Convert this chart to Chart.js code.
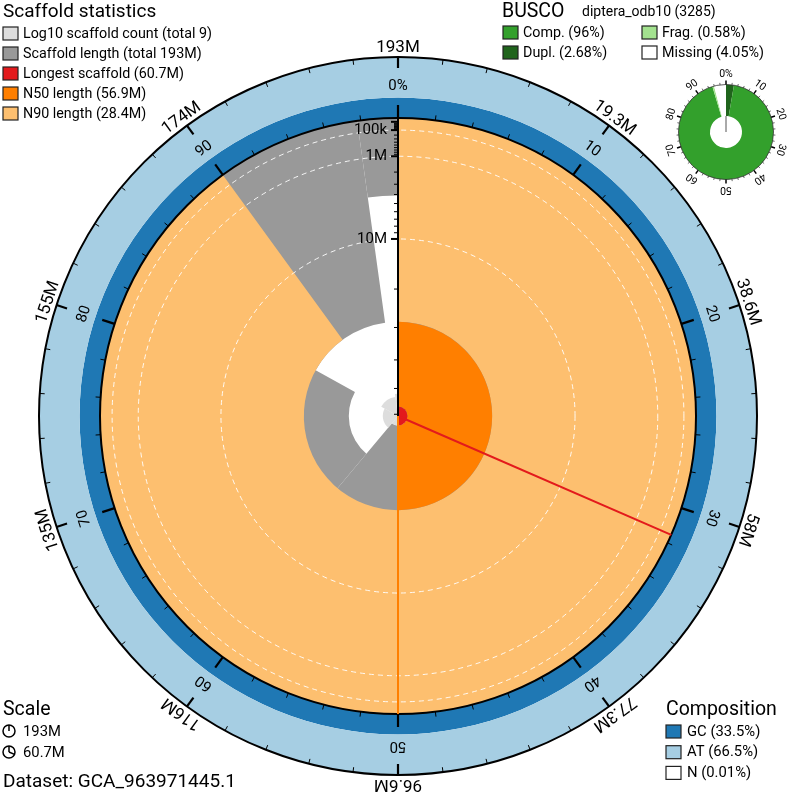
<!DOCTYPE html>
<html>
<head>
<meta charset="utf-8">
<script src="https://cdn.jsdelivr.net/npm/chart.js@4.4.1/dist/chart.umd.min.js"></script>
<style>
  html, body { margin: 0; padding: 0; background: #fff; overflow: hidden; }
  #wrap { position: relative; width: 787px; height: 792px; }
  #main { position: absolute; left: 0; top: 0; }
  #busco { position: absolute; left: 656px; top: 62px; }
</style>
</head>
<body>
<div id="wrap">
  <canvas id="main" width="787" height="792"></canvas>
  <canvas id="busco" width="140" height="140"></canvas>
</div>
<script>
// scaffold lengths in Mb, sorted longest first
const scaffoldLengths = [60.7, 56.9, 42.3, 28.4, 4.1, 0.04, 0.03, 0.02, 0.02]
const assemblySpanLabel = '193M'
const longestScaffold = 60.7
const n50Length = 56.9
const n90Length = 28.4

const gcShare = 33.5
const atShare = 66.5
const nShare = 0.01

const percentLabels = ['0%', '10', '20', '30', '40', '50', '60', '70', '80', '90']
const spanLabels = ['193M', '19.3M', '38.6M', '58M', '77.3M', '96.6M', '116M', '135M', '155M', '174M']
const lengthTicks = [0.1, 1, 10]
const lengthTickLabels = ['100k', '1M', '10M']

const buscoClasses = ['Dupl.', 'Comp.', 'Frag.', 'Missing']
const buscoShares = [2.68, 92.69, 0.58, 4.05]
const buscoLegend = ['Comp. (96%)', 'Frag. (0.58%)', 'Dupl. (2.68%)', 'Missing (4.05%)']
const buscoTickLabels = ['0%', '10', '20', '30', '40', '50', '60', '70', '80', '90']

const COLORS = {
  count: '#dddddd',
  length: '#999999',
  longest: '#e31a1c',
  n50: '#ff7f00',
  n90: '#fdbf6f',
  gc: '#1f78b4',
  at: '#a6cee3',
  n: '#ffffff',
  comp: '#33a02c',
  dupl: '#20641c',
  frag: '#a3e28f',
  missing: '#ffffff'
}
const FONT = 'Roboto, "Noto Sans", sans-serif'

const assemblySpan = scaffoldLengths.reduce((a, b) => a + b, 0)

// radial scale: centre = longest scaffold, edge = 0 (sqrt)
const radiusFor = len => 1 - Math.sqrt(len / longestScaffold)
const countRadius = n => 0.107 * Math.log10(n)
const compBand = 0.2047

function sector(ctx, cx, cy, r0, r1, p0, p1, color) {
  const a0 = p0 * 2 * Math.PI - Math.PI / 2
  const a1 = p1 * 2 * Math.PI - Math.PI / 2
  ctx.beginPath()
  ctx.arc(cx, cy, r1, a0, a1)
  ctx.arc(cx, cy, r0, a1, a0, true)
  ctx.closePath()
  ctx.fillStyle = color
  ctx.fill()
}

function radialTick(ctx, cx, cy, p, rFrom, rTo, width) {
  const a = p * 2 * Math.PI
  ctx.beginPath()
  ctx.moveTo(cx + rFrom * Math.sin(a), cy - rFrom * Math.cos(a))
  ctx.lineTo(cx + rTo * Math.sin(a), cy - rTo * Math.cos(a))
  ctx.lineWidth = width
  ctx.strokeStyle = '#000'
  ctx.stroke()
}

function rotatedText(ctx, cx, cy, p, r, text, font) {
  ctx.save()
  ctx.translate(cx, cy)
  ctx.rotate(p * 2 * Math.PI)
  ctx.font = font
  ctx.fillStyle = '#000'
  ctx.textAlign = 'center'
  ctx.textBaseline = 'middle'
  ctx.fillText(text, 0, -r)
  ctx.restore()
}

function legendBox(ctx, x, y, color) {
  ctx.fillStyle = color
  ctx.fillRect(x, y - 6, 15, 13)
  ctx.strokeStyle = '#222'
  ctx.lineWidth = 1.2
  ctx.strokeRect(x, y - 6, 15, 13)
}

function legendText(ctx, x, y, text, size) {
  ctx.font = size + 'px ' + FONT
  ctx.fillStyle = '#000'
  ctx.textAlign = 'left'
  ctx.textBaseline = 'middle'
  ctx.fillText(text, x, y)
}

function title(ctx, x, y, text, size) {
  ctx.font = size + 'px ' + FONT
  ctx.textAlign = 'left'
  ctx.textBaseline = 'alphabetic'
  ctx.fillStyle = '#000'
  ctx.fillText(text, x, y)
}

const snailPlugin = {
  id: 'snail',
  beforeDatasetsDraw(chart) {
    const { ctx, scales: { x, y } } = chart
    const cx = x.getPixelForValue(0)
    const cy = y.getPixelForValue(0)
    const u = v => x.getPixelForValue(v) - cx

    // scaffold length distribution
    let cum = 0
    scaffoldLengths.forEach(len => {
      const p0 = cum / assemblySpan
      cum += len
      sector(ctx, cx, cy, u(radiusFor(len)), u(1), p0, cum / assemblySpan, COLORS.length)
    })
    // log10 scaffold count
    cum = 0
    scaffoldLengths.forEach((len, i) => {
      const p0 = cum / assemblySpan
      cum += len
      sector(ctx, cx, cy, 0, u(countRadius(i + 1)), p0, cum / assemblySpan, COLORS.count)
    })
    // N90 / N50 / longest
    sector(ctx, cx, cy, u(radiusFor(n90Length)), u(1), 0, 0.9, COLORS.n90)
    sector(ctx, cx, cy, u(radiusFor(n50Length)), u(radiusFor(n90Length)), 0, 0.5, COLORS.n50)
    sector(ctx, cx, cy, 0, u(radiusFor(n50Length)), 0, 0.5, COLORS.longest)

    // dashed length gridlines
    ctx.save()
    ctx.setLineDash([5, 4])
    ctx.strokeStyle = 'rgba(255,255,255,0.9)'
    ctx.lineWidth = 1
    lengthTicks.forEach(len => {
      ctx.beginPath()
      ctx.arc(cx, cy, u(radiusFor(len)), 0, 2 * Math.PI)
      ctx.stroke()
    })
    ctx.restore()

    // composition ring
    const gcOuter = 1 + compBand * gcShare / 100
    sector(ctx, cx, cy, u(1), u(gcOuter), 0, 1, COLORS.gc)
    sector(ctx, cx, cy, u(gcOuter), u(1 + compBand), 0, 1, COLORS.at)

    ctx.lineWidth = 2
    ctx.strokeStyle = '#000'
    ;[1, 1 + compBand].forEach(r => {
      ctx.beginPath()
      ctx.arc(cx, cy, u(r), 0, 2 * Math.PI)
      ctx.stroke()
    })

    // ticks every 2%
    for (let i = 0; i < 50; i++) {
      const p = i / 50
      const major = i % 5 === 0
      radialTick(ctx, cx, cy, p, u(1), u(1) + (major ? 13 : 5), major ? 2.2 : 1)
      radialTick(ctx, cx, cy, p, u(1 + compBand), u(1 + compBand) - (major ? 11 : 5), major ? 2.2 : 1)
    }
  },
  afterDatasetsDraw(chart) {
    const { ctx, scales: { x, y } } = chart
    const cx = x.getPixelForValue(0)
    const cy = y.getPixelForValue(0)
    const u = v => x.getPixelForValue(v) - cx

    // radial axis
    ctx.beginPath()
    ctx.moveTo(cx, cy)
    ctx.lineTo(cx, cy - u(1))
    ctx.lineWidth = 2
    ctx.strokeStyle = '#000'
    ctx.stroke()
    for (let e = -2; e <= 1; e++) {
      for (let m = 1; m <= 9; m++) {
        const len = m * Math.pow(10, e)
        if (len >= longestScaffold) continue
        const ty = cy - u(radiusFor(len))
        ctx.beginPath()
        ctx.moveTo(cx - (m === 1 ? 7 : 4), ty)
        ctx.lineTo(cx, ty)
        ctx.lineWidth = m === 1 ? 2 : 1
        ctx.stroke()
      }
    }
    ctx.font = '15px ' + FONT
    ctx.fillStyle = '#000'
    ctx.textAlign = 'right'
    ctx.textBaseline = 'middle'
    lengthTicks.forEach((len, i) => {
      ctx.fillText(lengthTickLabels[i], cx - 11, cy - u(radiusFor(len)))
    })

    // circular labels
    percentLabels.forEach((t, i) => rotatedText(ctx, cx, cy, i / 10, u(1.1074), t, '15px ' + FONT))
    spanLabels.forEach((t, i) => rotatedText(ctx, cx, cy, i / 10, u(1.2349), t, '17px ' + FONT))

    // scaffold statistics legend
    title(ctx, 3, 17, 'Scaffold statistics', 19)
    const statRows = [
      [COLORS.count, 'Log10 scaffold count (total ' + scaffoldLengths.length + ')'],
      [COLORS.length, 'Scaffold length (total ' + assemblySpanLabel + ')'],
      [COLORS.longest, 'Longest scaffold (' + longestScaffold + 'M)'],
      [COLORS.n50, 'N50 length (' + n50Length + 'M)'],
      [COLORS.n90, 'N90 length (' + n90Length + 'M)']
    ]
    statRows.forEach((row, i) => {
      legendBox(ctx, 3, 33 + 20 * i, row[0])
      legendText(ctx, 23, 34 + 20 * i, row[1], 14.3)
    })

    // BUSCO legend
    title(ctx, 502, 17, 'BUSCO', 19.5)
    title(ctx, 582, 16, 'diptera_odb10 (3285)', 14)
    const buscoColors = [COLORS.comp, COLORS.frag, COLORS.dupl, COLORS.missing]
    buscoLegend.forEach((t, i) => {
      const bx = i % 2 === 0 ? 503 : 642
      const by = 32 + 20 * Math.floor(i / 2)
      legendBox(ctx, bx, by, buscoColors[i])
      legendText(ctx, bx + 20, by + 1, t, 14.3)
    })

    // composition legend
    title(ctx, 666, 715, 'Composition', 19.5)
    const compRows = [
      [COLORS.gc, 'GC (' + gcShare + '%)'],
      [COLORS.at, 'AT (' + atShare + '%)'],
      [COLORS.n, 'N (' + nShare + '%)']
    ]
    compRows.forEach((row, i) => {
      legendBox(ctx, 666, 731 + 20.7 * i, row[0])
      legendText(ctx, 687, 732 + 20.7 * i, row[1], 14.8)
    })

    // scale legend
    title(ctx, 3, 715, 'Scale', 19.5)
    const scaleRows = [[1, assemblySpanLabel], [longestScaffold / assemblySpan, longestScaffold + 'M']]
    scaleRows.forEach((row, i) => {
      const sy = 731 + 21 * i
      ctx.beginPath()
      ctx.arc(9, sy, 6, 0, 2 * Math.PI)
      ctx.lineWidth = 1.5
      ctx.strokeStyle = '#000'
      ctx.stroke()
      ctx.beginPath()
      ctx.moveTo(9, sy)
      ctx.lineTo(9, sy - 6)
      if (row[0] < 1) {
        const a = row[0] * 2 * Math.PI
        ctx.moveTo(9, sy)
        ctx.lineTo(9 + 6 * Math.sin(a), sy - 6 * Math.cos(a))
      }
      ctx.stroke()
      legendText(ctx, 23, sy + 1, row[1], 14.8)
    })
    title(ctx, 3, 787, 'Dataset: GCA_963971445.1', 19)
  }
}

const longestAngle = 2 * Math.PI * longestScaffold / assemblySpan
const n50Angle = 2 * Math.PI * 0.5

new Chart(document.getElementById('main'), {
  type: 'scatter',
  data: {
    datasets: [
      {
        label: 'N50',
        data: [{ x: 0, y: 0 }, { x: Math.sin(n50Angle), y: Math.cos(n50Angle) }],
        showLine: true, borderColor: COLORS.n50, borderWidth: 2, pointRadius: 0
      },
      {
        label: 'Longest',
        data: [{ x: 0, y: 0 }, { x: Math.sin(longestAngle), y: Math.cos(longestAngle) }],
        showLine: true, borderColor: COLORS.longest, borderWidth: 2, pointRadius: 0
      }
    ]
  },
  options: {
    responsive: false,
    animation: false,
    layout: { padding: 0 },
    plugins: { legend: { display: false }, tooltip: { enabled: false } },
    scales: {
      x: { type: 'linear', display: false, min: -398 / 298, max: 389 / 298 },
      y: { type: 'linear', display: false, min: -376 / 298, max: 416 / 298 }
    }
  },
  plugins: [snailPlugin]
})

const buscoTicks = {
  id: 'buscoTicks',
  afterDatasetsDraw(chart) {
    const { ctx } = chart
    const arc = chart.getDatasetMeta(0).data[0]
    const cx = arc.x, cy = arc.y, R = arc.outerRadius, r = arc.innerRadius
    ctx.beginPath()
    ctx.arc(cx, cy, R, 0, 2 * Math.PI)
    ctx.lineWidth = 0.8
    ctx.strokeStyle = '#333'
    ctx.stroke()
    for (let i = 0; i < 50; i++) {
      const major = i % 5 === 0
      radialTick(ctx, cx, cy, i / 50, R, R + (major ? 4 : 2), major ? 1.5 : 0.6)
    }
    buscoTickLabels.forEach((t, i) => rotatedText(ctx, cx, cy, i / 10, R + 10, t, '10.5px ' + FONT))
    ctx.beginPath()
    ctx.moveTo(cx, cy)
    ctx.lineTo(cx, cy - r)
    ctx.lineWidth = 1
    ctx.strokeStyle = '#555'
    ctx.stroke()
  }
}

new Chart(document.getElementById('busco'), {
  type: 'doughnut',
  data: {
    labels: buscoClasses,
    datasets: [{
      data: buscoShares,
      backgroundColor: [COLORS.dupl, COLORS.comp, COLORS.frag, COLORS.missing],
      borderWidth: 0
    }]
  },
  options: {
    responsive: false,
    animation: false,
    cutout: '33.7%',
    layout: { padding: 22.5 },
    plugins: { legend: { display: false }, tooltip: { enabled: false } }
  },
  plugins: [buscoTicks]
})
</script>
</body>
</html>
